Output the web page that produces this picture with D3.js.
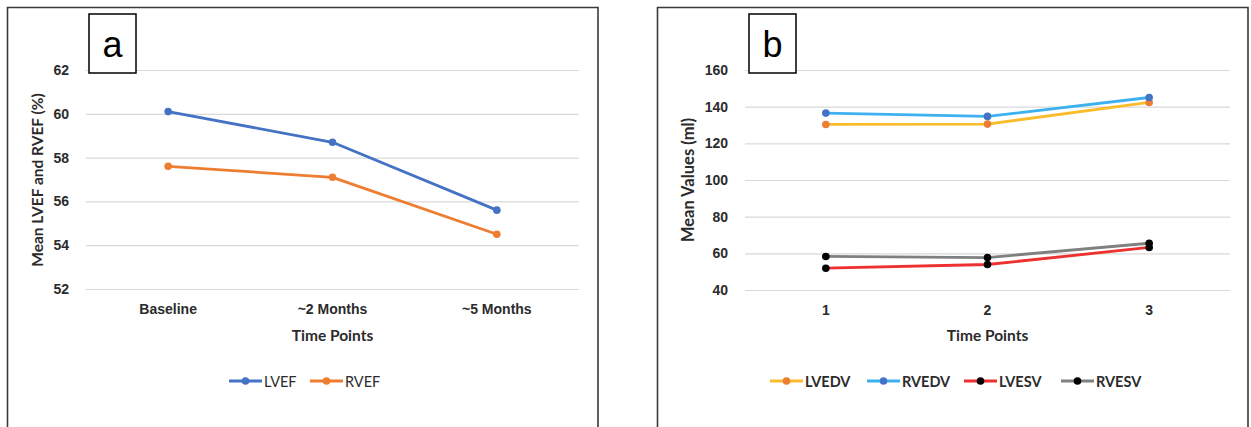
<!DOCTYPE html>
<html>
<head>
    <meta charset="utf-8">
    <script src="https://cdn.jsdelivr.net/npm/d3@7"></script>
    <style>
        body {
            margin: 0;
            padding: 0;
            background-color: white;
        }
        svg {
            display: block;
            font-family: Lato, "Open Sans", sans-serif;
        }
        .tick-label {
            font-size: 14px;
            font-weight: bold;
            fill: #2b2b2b;
        }
        .axis-title {
            font-size: 15.5px;
            font-weight: bold;
            fill: #2b2b2b;
        }
        .legend-text {
            font-size: 14.5px;
            fill: #2b2b2b;
        }
        .legend-bold {
            font-weight: bold;
        }
    </style>
</head>
<body>
    <svg id="chart" width="1251" height="427"></svg>

    <script>
        // panel a
        const timeLabelsA = ["Baseline", "~2 Months", "~5 Months"];
        const yTicksA = [52, 54, 56, 58, 60, 62];
        const lvef = [60.1, 58.7, 55.6];
        const rvef = [57.6, 57.1, 54.5];

        // panel b
        const timeLabelsB = ["1", "2", "3"];
        const yTicksB = [40, 60, 80, 100, 120, 140, 160];
        const lvedv = [130.3, 130.5, 142.3];
        const rvedv = [136.5, 134.7, 145.0];
        const lvesv = [51.9, 53.9, 63.2];
        const rvesv = [58.3, 57.7, 65.5];

        const svg = d3.select("#chart");

        function drawPanel(cfg) {
            const g = svg.append("g");

            // outer frame (no bottom edge visible)
            g.append("path")
                .attr("d", `M${cfg.frame[0]},440 V${cfg.frame[1]} H${cfg.frame[2]} V440`)
                .attr("fill", "none")
                .attr("stroke", "#3a3a3a")
                .attr("stroke-width", 1.6);

            const x = d3.scaleBand()
                .domain(cfg.categories)
                .range([cfg.left, cfg.right]);

            const y = d3.scaleLinear()
                .domain(cfg.yDomain)
                .range([cfg.bottom, cfg.top]);

            // gridlines + y tick labels
            const yAxis = g.append("g")
                .attr("transform", `translate(${cfg.left},0)`)
                .call(d3.axisLeft(y)
                    .tickValues(cfg.yTicks)
                    .tickSize(-(cfg.right - cfg.left))
                    .tickPadding(17));
            yAxis.select(".domain").remove();
            yAxis.selectAll(".tick line")
                .attr("stroke", "#d9d9d9")
                .attr("stroke-width", 1.2);
            yAxis.selectAll(".tick text")
                .attr("class", "tick-label")
                .attr("font-family", null)
                .attr("font-size", null)
                .attr("fill", null);

            // x tick labels
            const xAxis = g.append("g")
                .attr("transform", `translate(0,${cfg.bottom})`)
                .call(d3.axisBottom(x).tickSize(0).tickPadding(15));
            xAxis.select(".domain").remove();
            xAxis.selectAll(".tick text")
                .attr("class", "tick-label")
                .attr("font-family", null)
                .attr("font-size", null)
                .attr("fill", null);

            // axis titles
            g.append("text")
                .attr("class", "axis-title")
                .attr("x", (cfg.left + cfg.right) / 2)
                .attr("y", 341)
                .attr("text-anchor", "middle")
                .text("Time Points");

            g.append("text")
                .attr("class", "axis-title")
                .attr("transform", `translate(${cfg.yTitleX},180) rotate(-90)`)
                .attr("text-anchor", "middle")
                .style("font-size", cfg.yTitleSize + "px")
                .text(cfg.yTitle);

            const cx = d => x(d) + x.bandwidth() / 2;

            const line = d3.line()
                .x((d, i) => cx(cfg.categories[i]))
                .y(d => y(d));

            cfg.series.forEach(s => {
                g.append("path")
                    .datum(s.values)
                    .attr("fill", "none")
                    .attr("stroke", s.line)
                    .attr("stroke-width", 2.8)
                    .attr("stroke-linejoin", "round")
                    .attr("d", line);
            });
            cfg.series.forEach(s => {
                g.selectAll(null)
                    .data(s.values)
                    .enter()
                    .append("circle")
                    .attr("cx", (d, i) => cx(cfg.categories[i]))
                    .attr("cy", d => y(d))
                    .attr("r", 3.8)
                    .attr("fill", s.marker);
            });

            // legend
            const legend = g.append("g")
                .attr("transform", `translate(${cfg.legendX},381)`);
            cfg.series.forEach((s, i) => {
                const item = legend.append("g")
                    .attr("transform", `translate(${i * cfg.legendStep},0)`);
                item.append("line")
                    .attr("x1", 0).attr("x2", 33)
                    .attr("y1", 0).attr("y2", 0)
                    .attr("stroke", s.line)
                    .attr("stroke-width", 2.8);
                item.append("circle")
                    .attr("cx", 16.5).attr("cy", 0)
                    .attr("r", 3.8)
                    .attr("fill", s.marker);
                item.append("text")
                    .attr("class", "legend-text" + (cfg.legendBold ? " legend-bold" : ""))
                    .attr("x", 35)
                    .attr("y", 5.5)
                    .text(s.name);
            });

            // panel letter box
            g.append("rect")
                .attr("x", cfg.boxX)
                .attr("y", 14)
                .attr("width", 47)
                .attr("height", 59)
                .attr("fill", "white")
                .attr("stroke", "black")
                .attr("stroke-width", 1.5);
            g.append("text")
                .attr("x", cfg.boxX + 23.5)
                .attr("y", 57)
                .attr("text-anchor", "middle")
                .attr("font-family", "'Liberation Sans', Arial, sans-serif")
                .attr("font-size", 36)
                .attr("fill", "black")
                .text(cfg.letter);
        }

        drawPanel({
            frame: [7.5, 7.5, 598],
            left: 86, right: 579, top: 70, bottom: 289,
            categories: timeLabelsA,
            yDomain: [52, 62],
            yTicks: yTicksA,
            yTitle: "Mean LVEF and RVEF (%)",
            yTitleSize: 15.5,
            yTitleX: 43,
            letter: "a",
            boxX: 89,
            legendX: 229,
            legendStep: 81,
            legendBold: false,
            series: [
                { name: "LVEF", values: lvef, line: "#4472C4", marker: "#4472C4" },
                { name: "RVEF", values: rvef, line: "#ED7D31", marker: "#ED7D31" }
            ]
        });

        drawPanel({
            frame: [657.5, 7.5, 1248],
            left: 745, right: 1230, top: 70, bottom: 290,
            categories: timeLabelsB,
            yDomain: [40, 160],
            yTicks: yTicksB,
            yTitle: "Mean Values (ml)",
            yTitleSize: 16.5,
            yTitleX: 694,
            letter: "b",
            boxX: 749,
            legendX: 770,
            legendStep: 97,
            legendBold: true,
            series: [
                { name: "LVEDV", values: lvedv, line: "#FBBC2C", marker: "#ED7D31" },
                { name: "RVEDV", values: rvedv, line: "#3DB1F0", marker: "#4472C4" },
                { name: "LVESV", values: lvesv, line: "#EE3030", marker: "#000000" },
                { name: "RVESV", values: rvesv, line: "#808080", marker: "#000000" }
            ]
        });
    </script>
</body>
</html>
